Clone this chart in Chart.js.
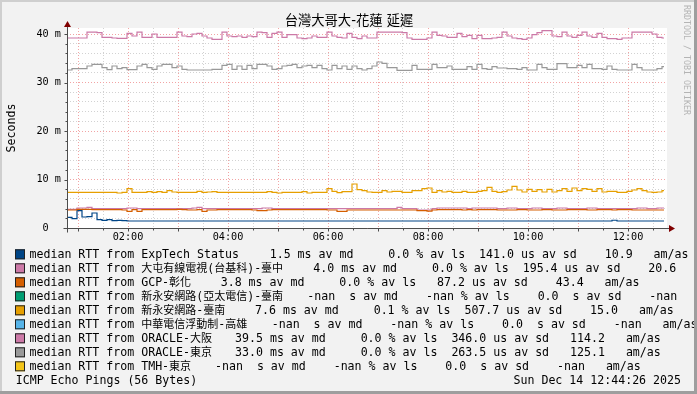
<!DOCTYPE html>
<html>
<head>
<meta charset="utf-8">
<script src="https://cdn.jsdelivr.net/npm/chart.js@4/dist/chart.umd.min.js"></script>
<style>
  html, body { margin: 0; padding: 0; background: #f2f2f2; }
  canvas { display: block; }
</style>
</head>
<body>
<canvas id="grafico" width="697" height="394"></canvas>
<script>
// time axis, in hours of Dec 14
const axisStart = 0.78;
const axisEnd = 12.78;
const sampleStep = 0.1;   // one sample every 6 minutes
const lastSample = 12.72;

// median RTT in ms, one value per sample
const expTech = [
  2.20, 1.92, 3.57, 2.27, 2.34, 3.09, 1.72, 1.58, 1.72, 1.51,
  1.58, 1.51, 1.44, 1.44, 1.44, 1.44, 1.44, 1.44, 1.44, 1.44,
  1.44, 1.44, 1.44, 1.44, 1.44, 1.44, 1.44, 1.44, 1.44, 1.44,
  1.44, 1.44, 1.44, 1.44, 1.44, 1.44, 1.44, 1.44, 1.44, 1.44,
  1.44, 1.44, 1.44, 1.44, 1.44, 1.44, 1.44, 1.44, 1.44, 1.44,
  1.44, 1.44, 1.44, 1.44, 1.44, 1.44, 1.44, 1.44, 1.44, 1.44,
  1.44, 1.44, 1.44, 1.44, 1.44, 1.44, 1.44, 1.44, 1.44, 1.44,
  1.44, 1.44, 1.44, 1.44, 1.44, 1.44, 1.44, 1.44, 1.44, 1.44,
  1.44, 1.44, 1.44, 1.44, 1.44, 1.44, 1.44, 1.44, 1.44, 1.44,
  1.44, 1.44, 1.44, 1.44, 1.44, 1.44, 1.44, 1.44, 1.44, 1.44,
  1.44, 1.44, 1.44, 1.44, 1.44, 1.44, 1.44, 1.44, 1.44, 1.60,
  1.44, 1.44, 1.44, 1.44, 1.44, 1.44, 1.44, 1.44, 1.44, 1.44
];
const datun = [
  3.85, 3.85, 4.12, 4.12, 4.26, 3.99, 3.99, 3.99, 3.99, 3.99,
  3.99, 3.99, 4.12, 4.12, 3.99, 3.99, 3.99, 3.99, 3.99, 3.99,
  3.99, 3.99, 3.99, 3.99, 3.99, 4.12, 4.26, 3.99, 3.99, 3.99,
  3.99, 3.99, 3.99, 3.99, 3.99, 3.99, 3.99, 3.99, 3.99, 4.12,
  4.12, 3.99, 3.99, 3.99, 3.99, 3.99, 3.99, 3.99, 3.99, 3.99,
  3.99, 3.99, 3.99, 3.99, 3.99, 3.99, 3.99, 3.99, 3.99, 3.99,
  3.99, 3.99, 3.99, 3.99, 3.99, 3.99, 4.26, 3.99, 3.99, 3.99,
  3.71, 3.71, 3.71, 3.99, 4.12, 4.12, 4.12, 4.12, 4.12, 4.12,
  3.99, 4.12, 4.12, 4.12, 4.12, 4.12, 3.99, 3.99, 4.12, 4.12,
  3.99, 3.99, 3.99, 4.12, 4.12, 3.99, 3.99, 3.99, 4.12, 4.12,
  3.99, 3.99, 3.99, 3.99, 4.12, 4.12, 3.99, 3.99, 3.99, 3.99,
  3.99, 3.99, 3.99, 3.99, 4.12, 4.12, 3.99, 3.99, 4.12, 4.12
];
const gcp = [
  3.71, 3.71, 3.85, 3.85, 3.85, 3.78, 3.78, 3.78, 3.78, 3.78,
  3.78, 3.71, 3.44, 3.78, 3.44, 3.78, 3.78, 3.78, 3.78, 3.78,
  3.78, 3.78, 3.85, 3.78, 3.71, 3.71, 3.78, 3.44, 3.71, 3.71,
  3.78, 3.78, 3.78, 3.78, 3.78, 3.78, 3.78, 3.71, 3.57, 3.57,
  3.71, 3.78, 3.78, 3.78, 3.78, 3.78, 3.78, 3.78, 3.78, 3.78,
  3.78, 3.78, 3.71, 3.71, 3.44, 3.44, 3.71, 3.71, 3.71, 3.71,
  3.71, 3.71, 3.71, 3.71, 3.71, 3.71, 3.71, 3.71, 3.71, 3.71,
  3.57, 3.57, 3.50, 3.71, 3.78, 3.78, 3.78, 3.78, 3.78, 3.71,
  3.78, 3.71, 3.78, 3.78, 3.78, 3.78, 3.71, 3.71, 3.71, 3.71,
  3.78, 3.78, 3.71, 3.71, 3.71, 3.78, 3.78, 3.71, 3.71, 3.71,
  3.78, 3.78, 3.78, 3.78, 3.71, 3.71, 3.78, 3.78, 3.78, 3.71,
  3.78, 3.78, 3.78, 3.71, 3.71, 3.71, 3.71, 3.71, 3.71, 3.71
];
const tainan = [
  7.35, 7.35, 7.35, 7.35, 7.35, 7.35, 7.35, 7.35, 7.35, 7.35,
  7.22, 7.35, 8.11, 7.35, 7.35, 7.35, 7.49, 7.35, 7.49, 7.35,
  7.70, 7.42, 7.35, 7.35, 7.35, 7.35, 7.56, 7.35, 7.42, 7.49,
  7.35, 7.35, 7.35, 7.35, 7.35, 7.35, 7.35, 7.35, 7.35, 7.35,
  7.49, 7.35, 7.22, 7.35, 7.35, 7.35, 7.35, 7.49, 7.22, 7.35,
  7.35, 7.35, 8.11, 7.56, 7.29, 7.49, 7.49, 9.07, 7.90, 7.70,
  7.42, 7.35, 7.35, 7.70, 7.42, 7.56, 7.56, 7.35, 7.35, 7.70,
  7.70, 8.11, 8.25, 7.35, 7.70, 7.42, 7.56, 7.35, 7.35, 7.56,
  7.35, 7.35, 7.56, 7.70, 8.39, 7.56, 7.35, 7.49, 7.84, 8.59,
  7.84, 7.42, 7.97, 7.56, 7.90, 7.42, 7.97, 7.42, 7.70, 8.11,
  7.56, 8.25, 7.70, 8.11, 7.97, 7.56, 8.11, 7.42, 7.56, 7.56,
  7.35, 7.35, 7.56, 7.84, 8.11, 7.70, 7.42, 7.35, 7.42, 7.70
];
const osaka = [
  39.18, 39.18, 39.18, 39.18, 40.41, 40.41, 40.27, 39.31, 39.31, 39.18,
  39.11, 39.11, 40.14, 39.59, 40.41, 39.31, 39.31, 40.00, 39.31, 39.31,
  39.31, 39.31, 40.41, 39.59, 39.45, 40.00, 40.14, 39.59, 39.18, 38.90,
  38.90, 40.41, 39.59, 39.45, 39.59, 39.31, 39.59, 39.45, 40.41, 40.27,
  39.31, 40.14, 40.41, 39.31, 39.86, 39.86, 39.18, 39.04, 39.18, 39.59,
  39.31, 39.31, 40.41, 39.59, 39.31, 39.18, 40.14, 39.31, 39.04, 39.59,
  39.18, 39.18, 40.41, 40.41, 40.41, 40.41, 40.41, 40.27, 39.18, 38.90,
  38.90, 38.90, 39.18, 40.41, 39.73, 39.59, 39.31, 39.31, 40.14, 39.45,
  39.73, 39.04, 39.73, 39.04, 39.04, 39.18, 39.31, 40.41, 39.59, 39.18,
  39.04, 38.90, 39.18, 39.86, 40.27, 40.69, 40.69, 39.59, 39.45, 40.41,
  39.59, 39.31, 39.73, 40.41, 39.59, 39.31, 40.14, 39.31, 39.04, 39.04,
  38.90, 39.18, 39.18, 40.41, 40.41, 40.41, 40.41, 40.00, 39.31, 39.18
];
const tokyo = [
  32.58, 32.85, 32.85, 32.85, 33.40, 33.75, 33.75, 33.06, 32.65, 33.40,
  32.85, 33.06, 32.65, 32.65, 33.40, 33.75, 33.06, 32.71, 33.40, 33.75,
  33.75, 33.06, 33.40, 32.71, 32.58, 32.58, 32.58, 32.58, 32.58, 32.71,
  32.71, 33.54, 33.75, 32.71, 33.40, 32.71, 33.54, 32.85, 33.75, 33.75,
  33.40, 32.71, 32.85, 33.40, 33.54, 33.75, 33.06, 33.40, 33.54, 33.06,
  33.54, 32.85, 32.58, 33.54, 32.85, 33.40, 32.71, 33.40, 32.85, 32.58,
  32.85, 33.40, 34.23, 33.95, 33.06, 33.06, 32.51, 32.51, 32.51, 33.54,
  32.71, 32.71, 32.71, 33.75, 33.06, 33.06, 33.40, 32.71, 32.71, 32.71,
  33.26, 32.71, 33.75, 32.85, 32.71, 33.26, 32.99, 32.99, 32.85, 32.85,
  32.71, 33.06, 32.58, 32.58, 33.75, 33.06, 32.71, 32.71, 33.88, 33.88,
  33.06, 33.06, 33.54, 33.06, 33.75, 32.85, 32.85, 32.71, 33.40, 32.71,
  32.58, 32.58, 32.58, 33.75, 33.06, 32.58, 32.58, 32.58, 32.85, 33.26
];

const hourLabels = [2, 4, 6, 8, 10, 12];
const msLabels = [0, 10, 20, 30, 40];

// legend
const legendNames = ['ExpTech Status', '大屯有線電視(台基科)-臺中', 'GCP-彰化', '新永安網路(亞太電信)-臺南',
  '新永安網路-臺南', '中華電信浮動制-高雄', 'ORACLE-大阪', 'ORACLE-東京', 'TMH-東京'];
const legendColors = ['#004586', '#cc79a7', '#d55e00', '#009e73', '#e69f00', '#56b4e9', '#cc79a7', '#999999', '#f2c418'];
const legendStats = [
  '1.5 ms av md     0.0 % av ls  141.0 us av sd    10.9   am/as',
  '4.0 ms av md     0.0 % av ls  195.4 us av sd    20.6   am/as',
  '3.8 ms av md     0.0 % av ls   87.2 us av sd    43.4   am/as',
  '-nan  s av md    -nan % av ls    0.0  s av sd    -nan   am/as',
  '7.6 ms av md     0.1 % av ls  507.7 us av sd    15.0   am/as',
  '-nan  s av md    -nan % av ls    0.0  s av sd    -nan   am/as',
  '39.5 ms av md     0.0 % av ls  346.0 us av sd   114.2   am/as',
  '33.0 ms av md     0.0 % av ls  263.5 us av sd   125.1   am/as',
  '-nan  s av md    -nan % av ls    0.0  s av sd    -nan   am/as'
];
const statsX = [269.7, 313.3, 220.7, 307.3, 255, 271.7, 235, 235, 215];

const series = [
  { legend: 0, values: expTech },
  { legend: 1, values: datun },
  { legend: 2, values: gcp },
  { legend: 4, values: tainan },
  { legend: 6, values: osaka },
  { legend: 7, values: tokyo }
];

const mono = "'DejaVu Sans Mono', monospace";
const cjk = "'Noto Sans CJK TC', 'Noto Sans CJK SC', sans-serif";
const majorGrid = '#f2a4a4';
const minorGrid = '#d2d2d2';
const axisColor = '#4d4d4d';
const arrowColor = '#800000';

function toPoints(values) {
  const pts = values.map((v, i) => ({ x: axisStart + i * sampleStep, y: v }));
  pts.push({ x: lastSample, y: values[values.length - 1] });
  return pts;
}

// latin text in mono, chinese in the CJK face, like rrdtool/pango does
function drawMixed(ctx, text, x, y) {
  let run = '', runCjk = false;
  const flush = () => {
    if (!run) return;
    ctx.font = runCjk ? '11px ' + cjk : '11.6px ' + mono;
    ctx.fillText(run, x, y);
    x += ctx.measureText(run).width;
    run = '';
  };
  for (const ch of text) {
    const isCjk = ch.charCodeAt(0) > 0x2e80;
    if (run && isCjk !== runCjk) flush();
    runCjk = isCjk;
    run += ch;
  }
  flush();
}

const rrdLook = {
  id: 'rrdLook',
  beforeDraw(chart) {
    const ctx = chart.ctx, a = chart.chartArea;
    ctx.save();
    ctx.fillStyle = '#f2f2f2';
    ctx.fillRect(0, 0, chart.width, chart.height);
    ctx.fillStyle = '#ffffff';
    ctx.fillRect(a.left, a.top, a.right - a.left, a.bottom - a.top);
    ctx.restore();
  },
  afterDraw(chart) {
    const ctx = chart.ctx, a = chart.chartArea;
    const xs = chart.scales.x, ys = chart.scales.y;
    const x0 = Math.round(a.left) + 0.5, y0 = Math.round(a.bottom) + 0.5;
    ctx.save();

    // axes and small tick marks
    ctx.strokeStyle = axisColor;
    ctx.lineWidth = 1;
    ctx.beginPath();
    ctx.moveTo(x0, a.top - 3); ctx.lineTo(x0, y0 + 4);
    ctx.moveTo(x0 - 4, y0); ctx.lineTo(a.right + 4, y0);
    xs.ticks.forEach(t => {
      const px = Math.round(xs.getPixelForValue(t.value)) + 0.5;
      ctx.moveTo(px, y0); ctx.lineTo(px, y0 + (t.value % 1 === 0 ? 3 : 2));
    });
    ys.ticks.forEach(t => {
      const py = Math.round(ys.getPixelForValue(t.value)) + 0.5;
      ctx.moveTo(x0, py); ctx.lineTo(x0 - (t.value % 10 === 0 ? 3 : 2), py);
    });
    ctx.stroke();

    // arrows
    ctx.fillStyle = arrowColor;
    ctx.beginPath();
    ctx.moveTo(x0, a.top - 7); ctx.lineTo(x0 - 3.5, a.top - 1); ctx.lineTo(x0 + 3.5, a.top - 1);
    ctx.closePath(); ctx.fill();
    ctx.beginPath();
    ctx.moveTo(a.right + 8, y0); ctx.lineTo(a.right + 2, y0 - 3.5); ctx.lineTo(a.right + 2, y0 + 3.5);
    ctx.closePath(); ctx.fill();

    // title
    ctx.fillStyle = '#000';
    ctx.textAlign = 'center';
    ctx.textBaseline = 'middle';
    ctx.font = "13.3px 'DejaVu Sans', " + cjk;
    ctx.fillText('台灣大哥大-花蓮 延遲', 349, 22);

    // vertical unit label
    ctx.save();
    ctx.translate(15, (a.top + a.bottom) / 2);
    ctx.rotate(-Math.PI / 2);
    ctx.textBaseline = 'alphabetic';
    ctx.font = '11.6px ' + mono;
    ctx.fillText('Seconds', 0, 0);
    ctx.restore();

    // watermark
    ctx.save();
    ctx.translate(684, 5);
    ctx.rotate(Math.PI / 2);
    ctx.textAlign = 'left';
    ctx.textBaseline = 'alphabetic';
    ctx.fillStyle = '#b4b4b4';
    ctx.font = '8.3px ' + mono;
    ctx.fillText('RRDTOOL / TOBI OETIKER', 0, 0);
    ctx.restore();

    // legend rows
    ctx.textAlign = 'left';
    ctx.textBaseline = 'alphabetic';
    legendNames.forEach((name, i) => {
      const base = 258.3 + i * 14;
      ctx.fillStyle = legendColors[i];
      ctx.fillRect(15, base - 9, 10, 10);
      ctx.strokeStyle = '#222';
      ctx.strokeRect(15.5, base - 8.5, 9, 9);
      ctx.fillStyle = '#000';
      drawMixed(ctx, 'median RTT from ' + name, 29.5, base);
      ctx.font = '11.6px ' + mono;
      ctx.fillText(legendStats[i], statsX[i], base);
    });
    ctx.font = '11.6px ' + mono;
    ctx.fillText('ICMP Echo Pings (56 Bytes)', 15.7, 384);
    ctx.textAlign = 'right';
    ctx.fillText('Sun Dec 14 12:44:26 2025', 681, 384);

    // frame
    ctx.fillStyle = '#cfcfcf';
    ctx.fillRect(0, 0, chart.width, 2);
    ctx.fillRect(0, 0, 2, chart.height);
    ctx.fillStyle = '#9e9e9e';
    ctx.fillRect(0, chart.height - 3, chart.width, 3);
    ctx.fillRect(chart.width - 3, 0, 3, chart.height);
    ctx.restore();
  }
};

const ctx = document.getElementById('grafico').getContext('2d');
new Chart(ctx, {
  type: 'line',
  data: {
    datasets: series.map((s, i) => ({
      label: legendNames[s.legend],
      data: toPoints(s.values),
      borderColor: legendColors[s.legend],
      borderWidth: 1.2,
      pointRadius: 0,
      stepped: true,
      fill: false,
      order: -i
    }))
  },
  options: {
    responsive: false,
    animation: false,
    devicePixelRatio: 1,
    layout: { padding: { left: 0, right: 30, top: 28, bottom: 136 } },
    plugins: { legend: { display: false }, tooltip: { enabled: false } },
    scales: {
      x: {
        type: 'linear',
        min: axisStart,
        max: axisEnd,
        afterFit: s => { s.height = 30; },
        afterBuildTicks: s => {
          const t = [];
          for (let h = 1; h <= 12.5; h += 0.5) t.push({ value: h });
          s.ticks = t;
        },
        ticks: {
          autoSkip: false,
          maxRotation: 0,
          padding: 3,
          color: '#000',
          font: { family: mono, size: 10.2 },
          callback: v => hourLabels.includes(v) ? (v < 10 ? '0' : '') + v + ':00' : ''
        },
        grid: {
          drawTicks: false,
          lineWidth: 1,
          color: c => (c.tick && c.tick.value % 1 === 0) ? majorGrid : minorGrid
        },
        border: { display: false, dash: [1, 2] }
      },
      y: {
        min: 0,
        max: 41.24,
        afterFit: s => { s.width = 67; },
        afterBuildTicks: s => {
          const t = [];
          for (let v = 0; v <= 40; v += 2) t.push({ value: v });
          s.ticks = t;
        },
        ticks: {
          autoSkip: false,
          padding: 6,
          color: '#000',
          font: { family: mono, size: 10.2 },
          callback: v => msLabels.includes(v) ? (v === 0 ? '0  ' : v + ' m') : ''
        },
        grid: {
          drawTicks: false,
          lineWidth: 1,
          color: c => (c.tick && c.tick.value % 10 === 0) ? majorGrid : minorGrid
        },
        border: { display: false, dash: [1, 2] }
      }
    }
  },
  plugins: [rrdLook]
});
</script>
</body>
</html>
